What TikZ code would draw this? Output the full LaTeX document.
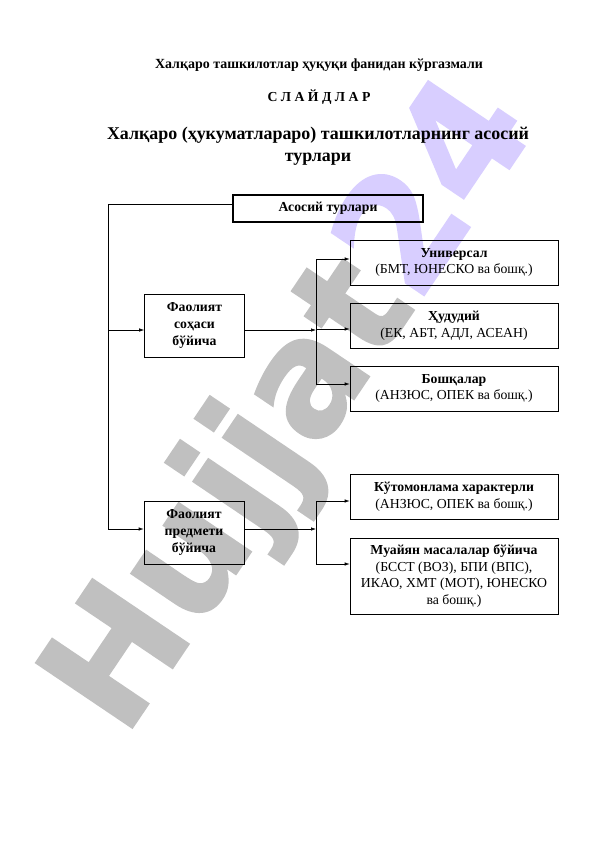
\documentclass[tikz,border=0pt]{standalone}
\usepackage{fontspec}
\setmainfont{Liberation Serif}
\newfontfamily\wmfont{DejaVu Sans}[BoldFeatures={FakeBold=1.2}]
\usetikzlibrary{arrows.meta}
\definecolor{wmgray}{RGB}{192,192,192}
\definecolor{wmviolet}{RGB}{216,206,255}

\begin{document}
\begin{tikzpicture}[x=1bp,y=-1bp,
    >={Latex[length=5pt,width=3.4pt]},
    box/.style={draw, line width=0.6pt, align=center, inner sep=0pt, font=\fontsize{13.8}{16.8}\selectfont},
    wide/.style={box, minimum width=208bp, minimum height=45bp},
    side/.style={box, minimum width=100bp, minimum height=63bp, font=\bfseries\fontsize{13.8}{17.5}\selectfont}]

        \useasboundingbox (0,0) rectangle (595,842);

        % Watermark (behind everything)
        \node[rotate=56, xscale=0.97, inner sep=0pt] (mark) at (295,409)
            {\wmfont\bfseries\fontsize{160}{160}\selectfont\textcolor{wmgray}{Hujjat}\textcolor{wmviolet}{24}};

        % Headings
        \node (head) at (319,65) {\bfseries\fontsize{14}{16}\selectfont Халқаро ташкилотлар ҳуқуқи фанидан кўргазмали};
        \node (slides) at (319,97) {\bfseries\fontsize{13.8}{16}\selectfont С Л А Й Д Л А Р};
        \node[align=center, font=\bfseries\fontsize{18}{22}\selectfont] (title) at (318,146)
            {Халқаро (ҳукуматлараро) ташкилотларнинг асосий\\турлари};

        % Main box
        \node[box, line width=1.6pt, minimum width=190bp, minimum height=27bp, font=\bfseries\fontsize{13.8}{16}\selectfont] (main) at (328,208.5) {Асосий турлари};

        % Two criteria
        \node[side] (field) at (194.5,325.5) {Фаолият\\соҳаси\\бўйича};
        \node[side] (subject) at (194,532.5) {Фаолият\\предмети\\бўйича};

        % Kinds by field
        \node[wide] (univ) at (454,262.5) {\textbf{Универсал}\\(БМТ, ЮНЕСКО ва бошқ.)};
        \node[wide] (region) at (454,325.5) {\textbf{Ҳудудий}\\(ЕК, АБТ, АДЛ, АСЕАН)};
        \node[wide] (other) at (454,388.5) {\textbf{Бошқалар}\\(АНЗЮС, ОПЕК ва бошқ.)};

        % Kinds by subject
        \node[wide] (multi) at (454,496.5) {\textbf{Кўтомонлама характерли}\\(АНЗЮС, ОПЕК ва бошқ.)};
        \node[wide, minimum height=76bp] (special) at (454,576)
            {\textbf{Муайян масалалар бўйича}\\(БССТ (ВОЗ), БПИ (ВПС),\\ИКАО, ХМТ (МОТ), ЮНЕСКО\\ва бошқ.)};

        % Branch points
        \coordinate (top) at (108,204);
        \coordinate (f0) at (108,330);
        \coordinate (s0) at (108,529);
        \coordinate (f1) at (316,330);
        \coordinate (fa) at (316,259);
        \coordinate (fb) at (316,329);
        \coordinate (fc) at (316,384);
        \coordinate (s1) at (316,529);
        \coordinate (sa) at (316,501);
        \coordinate (sb) at (316,564);

        % Left trunk
        \draw[line width=0.6pt] (top -| main.west) -- (top) -- (s0);
        \draw[->, line width=0.6pt] (f0) -- (f0 -| field.west);
        \draw[->, line width=0.6pt] (s0) -- (s0 -| subject.west);

        % Field branches
        \draw[->, line width=0.6pt] (f1 -| field.east) -- (f1);
        \draw[line width=0.6pt] (fa) -- (fc);
        \draw[->, line width=0.6pt] (fa) -- (fa -| univ.west);
        \draw[->, line width=0.6pt] (fb) -- (fb -| region.west);
        \draw[->, line width=0.6pt] (fc) -- (fc -| other.west);

        % Subject branches
        \draw[->, line width=0.6pt] (s1 -| subject.east) -- (s1);
        \draw[line width=0.6pt] (sa) -- (sb);
        \draw[->, line width=0.6pt] (sa) -- (sa -| multi.west);
        \draw[->, line width=0.6pt] (sb) -- (sb -| special.west);
    \end{tikzpicture}
\end{document}
